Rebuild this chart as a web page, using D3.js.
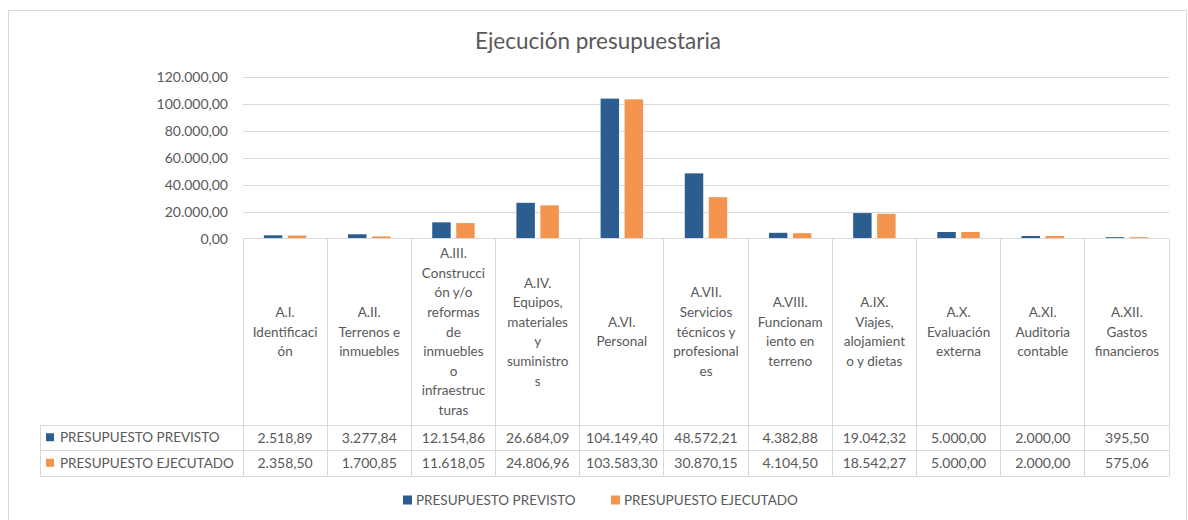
<!DOCTYPE html>
<html>
<head>
<meta charset="utf-8">
<script src="https://cdn.jsdelivr.net/npm/d3@7"></script>
<style>
  body { margin: 0; background: #fff; }
  svg { display: block; font-family: Lato, "Open Sans", sans-serif; }
</style>
</head>
<body>
<svg id="chart" width="1188" height="520"></svg>
<script>
// categorías y series
const categories = ['A.I.', 'A.II.', 'A.III.', 'A.IV.', 'A.VI.', 'A.VII.', 'A.VIII.', 'A.IX.', 'A.X.', 'A.XI.', 'A.XII.'];
const categoryLines = [
    ['A.I.', 'Identificaci', 'ón'],
    ['A.II.', 'Terrenos e', 'inmuebles'],
    ['A.III.', 'Construcci', 'ón y/o', 'reformas', 'de', 'inmuebles', 'o', 'infraestruc', 'turas'],
    ['A.IV.', 'Equipos,', 'materiales', 'y', 'suministro', 's'],
    ['A.VI.', 'Personal'],
    ['A.VII.', 'Servicios', 'técnicos y', 'profesional', 'es'],
    ['A.VIII.', 'Funcionam', 'iento en', 'terreno'],
    ['A.IX.', 'Viajes,', 'alojamient', 'o y dietas'],
    ['A.X.', 'Evaluación', 'externa'],
    ['A.XI.', 'Auditoria', 'contable'],
    ['A.XII.', 'Gastos', 'financieros']
];
const seriesNames = ['PRESUPUESTO PREVISTO', 'PRESUPUESTO EJECUTADO'];
const previsto = [2518.89, 3277.84, 12154.86, 26684.09, 104149.40, 48572.21, 4382.88, 19042.32, 5000.00, 2000.00, 395.50];
const ejecutado = [2358.50, 1700.85, 11618.05, 24806.96, 103583.30, 30870.15, 4104.50, 18542.27, 5000.00, 2000.00, 575.06];
const yTicks = [0, 20000, 40000, 60000, 80000, 100000, 120000];

const colors = ['#2b5d90', '#f3954f'];
const textColor = '#595959';
const lineColor = '#d9d9d9';

const es = d3.formatLocale({decimal: ',', thousands: '.', grouping: [3], currency: ['', '€']});
const fmt = es.format(',.2f');

const svg = d3.select('#chart');

// borde del gráfico
svg.append('rect')
    .attr('x', 8.5).attr('y', 10.5)
    .attr('width', 1178).attr('height', 530)
    .attr('fill', 'none').attr('stroke', '#d9d9d9');

// título
svg.append('text')
    .attr('x', 598).attr('y', 49)
    .attr('text-anchor', 'middle')
    .attr('fill', textColor)
    .style('font-size', '22.5px')
    .text('Ejecución presupuestaria');

const plotLeft = 243, plotRight = 1169;
const y = d3.scaleLinear().domain([0, 120000]).range([238.7, 77.3]);
const x0 = d3.scaleBand().domain(categories).range([plotLeft, plotRight]);
const x1 = d3.scaleBand().domain(seriesNames).range([0, x0.bandwidth()])
    .paddingInner(0.23).paddingOuter(0.87);

// rejilla
svg.append('g').selectAll('line')
    .data(yTicks.filter(d => d > 0))
    .join('line')
    .attr('x1', plotLeft).attr('x2', plotRight)
    .attr('y1', d => Math.round(y(d)) + 0.5)
    .attr('y2', d => Math.round(y(d)) + 0.5)
    .attr('stroke', lineColor);

// eje Y
const yAxis = svg.append('g')
    .attr('transform', `translate(${plotLeft},0)`)
    .call(d3.axisLeft(y).tickValues(yTicks).tickFormat(fmt).tickSize(0).tickPadding(15));
yAxis.select('.domain').remove();
yAxis.selectAll('text')
    .attr('fill', textColor)
    .style('font-size', '14px')
    .style('font-family', 'Lato, sans-serif');

// barras (mínimo de 1px como en Excel)
const data = categories.map((c, i) => ({cat: c, values: [previsto[i], ejecutado[i]]}));
svg.append('g').selectAll('g')
    .data(data)
    .join('g')
    .attr('transform', d => `translate(${x0(d.cat)},0)`)
    .selectAll('rect')
    .data(d => d.values.map((v, j) => ({key: seriesNames[j], v, j})))
    .join('rect')
    .attr('x', d => x1(d.key))
    .attr('width', x1.bandwidth())
    .attr('y', d => Math.min(y(d.v), y(0) - 1.5))
    .attr('height', d => Math.max(y(0) - y(d.v), 1.5))
    .attr('fill', d => colors[d.j]);

// tabla de datos
const tableLeft = 40;
const headerTop = y(0);
const rowTops = [425, 450.5, 476];
const grid = svg.append('g').attr('stroke', lineColor).attr('shape-rendering', 'crispEdges');

// eje X / borde superior de la cabecera
grid.append('line')
    .attr('x1', plotLeft).attr('x2', plotRight)
    .attr('y1', headerTop).attr('y2', headerTop);
// líneas horizontales de las filas
grid.selectAll('.hrow')
    .data(rowTops)
    .join('line')
    .attr('x1', tableLeft).attr('x2', plotRight)
    .attr('y1', d => d).attr('y2', d => d);
// líneas verticales
const vx = categories.map(c => x0(c)).concat([plotRight]);
grid.selectAll('.vcol')
    .data(vx)
    .join('line')
    .attr('x1', d => d).attr('x2', d => d)
    .attr('y1', headerTop).attr('y2', rowTops[2]);
grid.append('line')
    .attr('x1', tableLeft).attr('x2', tableLeft)
    .attr('y1', rowTops[0]).attr('y2', rowTops[2]);

// etiquetas de categorías
const lineH = 19.6;
const headerMid = (headerTop + rowTops[0]) / 2;
svg.append('g').selectAll('text')
    .data(categories.map((c, i) => ({cat: c, lines: categoryLines[i]})))
    .join('text')
    .attr('text-anchor', 'middle')
    .attr('fill', textColor)
    .style('font-size', '13.5px')
    .each(function(d) {
        const t = d3.select(this);
        const start = headerMid - (d.lines.length - 1) * lineH / 2;
        d.lines.forEach((ln, k) => {
            t.append('tspan')
                .attr('x', x0(d.cat) + x0.bandwidth() / 2)
                .attr('y', start + k * lineH)
                .attr('dy', '0.35em')
                .text(ln);
        });
    });

// filas de valores
const rows = [previsto, ejecutado];
rows.forEach((vals, r) => {
    const mid = (rowTops[r] + rowTops[r + 1]) / 2;
    svg.append('rect')
        .attr('x', 46).attr('y', mid - 4.5)
        .attr('width', 8).attr('height', 8)
        .attr('fill', colors[r]);
    svg.append('text')
        .attr('x', 60).attr('y', mid).attr('dy', '0.35em')
        .attr('fill', textColor)
        .style('font-size', '13.5px')
        .text(seriesNames[r]);
    svg.append('g').selectAll('text')
        .data(vals)
        .join('text')
        .attr('x', (d, i) => x0(categories[i]) + x0.bandwidth() / 2)
        .attr('y', mid).attr('dy', '0.35em')
        .attr('text-anchor', 'middle')
        .attr('fill', textColor)
        .style('font-size', '14px')
        .text(d => fmt(d));
});

// leyenda
const legendX = [403, 611];
const legend = svg.append('g').selectAll('g')
    .data(seriesNames)
    .join('g')
    .attr('transform', (d, i) => `translate(${legendX[i]},500)`);
legend.append('rect')
    .attr('x', 0).attr('y', -4.5)
    .attr('width', 9).attr('height', 9)
    .attr('fill', (d, i) => colors[i]);
legend.append('text')
    .attr('x', 13).attr('dy', '0.35em')
    .attr('fill', textColor)
    .style('font-size', '13.5px')
    .text(d => d);
</script>
</body>
</html>
